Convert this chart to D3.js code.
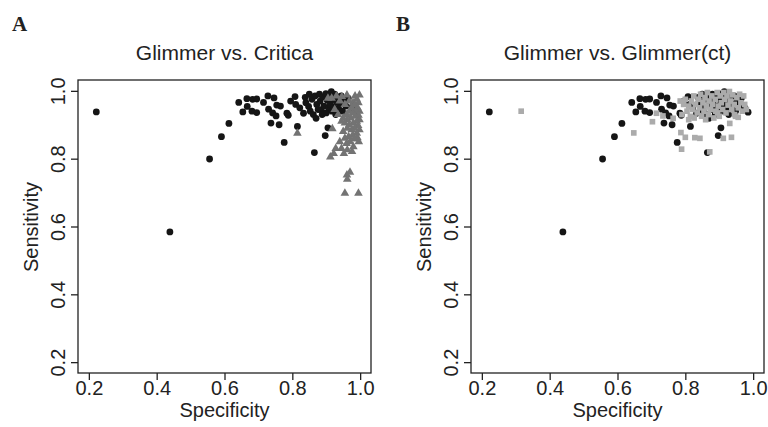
<!DOCTYPE html>
<html>
<head>
<meta charset="utf-8">
<script src="https://cdn.jsdelivr.net/npm/d3@7"></script>
<style>
  body { margin: 0; background: #ffffff; }
  text { font-family: "Liberation Sans", Arial, sans-serif; fill: #222; }
</style>
</head>
<body>
<svg id="SVG1" width="768" height="427"></svg>
<script>
// tick values shared by both axes
var tickValues = [0.2, 0.4, 0.6, 0.8, 1.0];
var axisLimits = [0.2, 1.0];

// Glimmer (black circles) - [specificity, sensitivity], same in both panels
var glimmerPoints = [
    [0.222, 0.938], [0.439, 0.584], [0.556, 0.799], [0.591, 0.865], [0.613, 0.904],
    [0.642, 0.966], [0.654, 0.938], [0.666, 0.977], [0.667, 0.954], [0.681, 0.940],
    [0.683, 0.975], [0.695, 0.976], [0.695, 0.936], [0.715, 0.966], [0.728, 0.985],
    [0.730, 0.946], [0.737, 0.905], [0.742, 0.935], [0.746, 0.979], [0.752, 0.926],
    [0.754, 0.958], [0.761, 0.900], [0.765, 0.955], [0.776, 0.848], [0.784, 0.934],
    [0.788, 0.928], [0.795, 0.970], [0.808, 0.983], [0.810, 0.960], [0.815, 0.895],
    [0.822, 0.950], [0.833, 0.934], [0.838, 0.981], [0.840, 0.965], [0.848, 0.954],
    [0.850, 0.990], [0.853, 0.940], [0.858, 0.975], [0.862, 0.930], [0.865, 0.818],
    [0.867, 0.985], [0.870, 0.919], [0.872, 0.960], [0.876, 0.945], [0.880, 0.990],
    [0.882, 0.970], [0.885, 0.944], [0.888, 0.930], [0.890, 0.982], [0.893, 0.955],
    [0.897, 0.868], [0.899, 0.992], [0.900, 0.935], [0.903, 0.972], [0.905, 0.891],
    [0.907, 0.950], [0.910, 0.985], [0.912, 0.960], [0.915, 0.998], [0.917, 0.940],
    [0.920, 0.975], [0.922, 0.952], [0.925, 0.990], [0.928, 0.930], [0.930, 0.968],
    [0.933, 0.982], [0.936, 0.948], [0.940, 0.960], [0.944, 0.985], [0.948, 0.940],
    [0.952, 0.970], [0.958, 0.955], [0.965, 0.978], [0.975, 0.950], [0.985, 0.937]
];

// Critica (grey triangles), panel A
var criticaPoints = [
    [0.815, 0.875], [0.905, 0.978], [0.916, 0.978], [0.930, 0.985], [0.946, 0.983],
    [0.961, 0.988], [0.998, 0.988], [0.990, 0.975], [0.979, 0.965], [0.968, 0.970],
    [0.955, 0.960], [0.995, 0.965], [0.985, 0.958], [0.975, 0.950], [0.992, 0.950],
    [0.998, 0.940], [0.988, 0.940], [0.978, 0.935], [0.968, 0.940], [0.960, 0.930],
    [0.995, 0.928], [0.985, 0.925], [0.972, 0.920], [0.962, 0.915], [0.950, 0.920],
    [0.998, 0.915], [0.990, 0.910], [0.980, 0.905], [0.968, 0.900], [0.955, 0.905],
    [0.945, 0.910], [0.994, 0.898], [0.984, 0.890], [0.975, 0.885], [0.962, 0.890],
    [0.950, 0.880], [0.998, 0.885], [0.990, 0.875], [0.978, 0.870], [0.966, 0.865],
    [0.955, 0.860], [0.992, 0.862], [0.982, 0.858], [0.970, 0.850], [0.960, 0.845],
    [0.940, 0.850], [0.928, 0.830], [0.918, 0.888], [0.935, 0.930], [0.925, 0.945],
    [0.912, 0.805], [0.922, 0.815], [0.952, 0.815], [0.962, 0.826], [0.976, 0.821],
    [0.980, 0.835], [0.945, 0.830], [0.961, 0.752], [0.970, 0.760], [0.962, 0.739],
    [0.955, 0.698], [0.995, 0.698], [0.985, 0.985], [0.940, 0.970], [0.996, 0.850]
];

// Glimmer(ct) (light grey squares), panel B
var glimmerCtPoints = [
    [0.316, 0.940], [0.648, 0.876], [0.703, 0.909], [0.715, 0.934], [0.734, 0.926],
    [0.764, 0.919], [0.787, 0.877], [0.789, 0.828], [0.800, 0.863], [0.843, 0.860],
    [0.872, 0.820], [0.912, 0.860], [0.936, 0.863], [0.931, 0.904], [0.956, 0.922],
    [0.785, 0.970], [0.795, 0.960], [0.800, 0.975], [0.805, 0.940], [0.810, 0.955],
    [0.815, 0.925], [0.818, 0.970], [0.822, 0.945], [0.825, 0.985], [0.830, 0.960],
    [0.835, 0.935], [0.838, 0.975], [0.842, 0.950], [0.845, 0.990], [0.848, 0.925],
    [0.852, 0.965], [0.855, 0.940], [0.858, 0.980], [0.862, 0.955], [0.865, 0.995],
    [0.868, 0.930], [0.870, 0.970], [0.874, 0.945], [0.878, 0.985], [0.880, 0.960],
    [0.884, 0.920], [0.888, 0.975], [0.890, 0.940], [0.894, 0.995], [0.897, 0.955],
    [0.900, 0.925], [0.903, 0.985], [0.906, 0.965], [0.910, 0.945], [0.913, 0.995],
    [0.916, 0.975], [0.920, 0.935], [0.923, 0.985], [0.926, 0.958], [0.930, 0.998],
    [0.933, 0.970], [0.937, 0.945], [0.940, 0.988], [0.944, 0.960], [0.948, 0.925],
    [0.952, 0.980], [0.956, 0.950], [0.960, 0.990], [0.964, 0.965], [0.968, 0.940],
    [0.972, 0.985], [0.975, 0.960], [0.980, 0.945], [0.810, 0.915], [0.790, 0.930],
    [0.826, 0.920], [0.860, 0.915], [0.828, 0.862], [0.895, 0.935], [0.945, 0.930]
];

const svg = d3.select('#SVG1');

function DrawPanel(letter, title, left, otherPoints, symbolType, otherColor, symbolSize, letterX) {
    var top = 80, bottom = 373, width = 293;
    var pad = (axisLimits[1] - axisLimits[0]) * 0.04; // R style 4% padding

    let xScale = d3.scaleLinear()
        .domain([axisLimits[0] - pad, axisLimits[1] + pad])
        .range([left, left + width]);
    let yScale = d3.scaleLinear()
        .domain([axisLimits[0] - pad, axisLimits[1] + pad])
        .range([bottom, top]);

    const g = svg.append('g');

    // points: black circles first, then the comparison set on top
    g.selectAll('.glim')
        .data(glimmerPoints)
        .enter()
        .append('circle')
        .attr('cx', d => xScale(d[0]))
        .attr('cy', d => yScale(d[1]))
        .attr('r', 3.4)
        .attr('fill', '#151515');

    g.selectAll('.other')
        .data(otherPoints)
        .enter()
        .append('path')
        .attr('d', d3.symbol().type(symbolType).size(symbolSize))
        .attr('transform', d => 'translate(' + xScale(d[0]) + ', ' + yScale(d[1]) + ')')
        .attr('fill', otherColor);

    // box
    g.append('rect')
        .attr('x', left).attr('y', top)
        .attr('width', width).attr('height', bottom - top)
        .attr('fill', 'none')
        .attr('stroke', '#222')
        .attr('stroke-width', 1.3);

    let axisBottom = d3.axisBottom(xScale).tickValues(tickValues)
        .tickFormat(d3.format('.1f')).tickSize(7).tickPadding(1);
    let axisLeft = d3.axisLeft(yScale).tickValues(tickValues)
        .tickFormat(d3.format('.1f')).tickSize(7);

    var xa = g.append('g').attr('transform', 'translate(0, ' + bottom + ')').call(axisBottom);
    xa.select('.domain').remove();
    xa.selectAll('line').attr('stroke', '#222').attr('stroke-width', 1.3);
    xa.selectAll('text').attr('font-size', 20).attr('font-family', null).attr('fill', '#222');

    var ya = g.append('g').attr('transform', 'translate(' + left + ', 0)').call(axisLeft);
    ya.select('.domain').remove();
    ya.selectAll('line').attr('stroke', '#222').attr('stroke-width', 1.3);
    ya.selectAll('text')
        .attr('font-size', 20).attr('font-family', null).attr('fill', '#222')
        .attr('transform', 'rotate(-90)')
        .attr('x', 0).attr('y', -13.5).attr('dy', 0)
        .attr('text-anchor', 'middle');

    // labels
    g.append('text')
        .attr('x', left + width / 2).attr('y', 417)
        .attr('text-anchor', 'middle').attr('font-size', 20)
        .text('Specificity');

    g.append('text')
        .attr('transform', 'translate(' + (left - 40) + ', 227) rotate(-90)')
        .attr('text-anchor', 'middle').attr('font-size', 20)
        .text('Sensitivity');

    g.append('text')
        .attr('x', left + width / 2).attr('y', 60)
        .attr('text-anchor', 'middle').attr('font-size', 21)
        .text(title);

    g.append('text')
        .attr('x', letterX).attr('y', 31)
        .style('font-family', '"Liberation Serif", "Times New Roman", serif')
        .attr('font-weight', 'bold').attr('font-size', 21)
        .text(letter);
}

DrawPanel('A', 'Glimmer vs. Critica', 78, criticaPoints, d3.symbolTriangle, '#737373', 32, 12);
DrawPanel('B', 'Glimmer vs. Glimmer(ct)', 471, glimmerCtPoints, d3.symbolSquare, '#ababab', 32, 396);
</script>
</body>
</html>
